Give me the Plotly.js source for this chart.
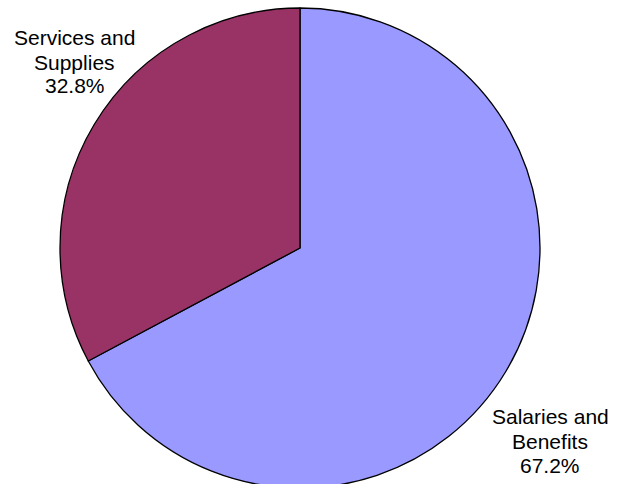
<!DOCTYPE html>
<html>
<head>
<meta charset="utf-8">
<script src="https://cdn.plot.ly/plotly-3.0.1.min.js"></script>
<style>
html, body { margin: 0; padding: 0; overflow: hidden; background: #fff; }
#chart { width: 624px; height: 488px; }
</style>
</head>
<body>
<div id="chart"></div>
<script>
const labels = ["Salaries and Benefits", "Services and Supplies"];
const labelLines = [["Salaries and", "Benefits"], ["Services and", "Supplies"]];
const values = [67.2, 32.8];
const colors = ["#9999FF", "#993366"];

const W = 624, H = 488, mt = 8, mb = 0, ml = 0, mr = 24;
const pw = W - ml - mr, ph = H - mt - mb;
function px(x) { return (x - ml) / pw; }
function py(y) { return (H - mb - y) / ph; }

// label block positions (pixel centers of each line)
const labelPos = [
  { x: 550, ys: [416, 441, 465.5] },
  { x: 74.5, ys: [37, 62, 86] }
];

const total = values.reduce((a, b) => a + b, 0);
const annotations = [];
labels.forEach((lab, i) => {
  const lines = labelLines[i].concat([(values[i] / total * 100).toFixed(1) + "%"]);
  lines.forEach((t, j) => {
    annotations.push({
      text: t, xref: "paper", yref: "paper",
      x: px(labelPos[i].x), y: py(labelPos[i].ys[j]),
      xanchor: "center", yanchor: "middle", showarrow: false,
      font: { family: "Liberation Sans, Arial, sans-serif", size: 21, color: "#000" }
    });
  });
});

Plotly.newPlot("chart", [{
  type: "pie",
  labels: labels,
  values: values,
  sort: false,
  direction: "clockwise",
  rotation: 0,
  textinfo: "none",
  hoverinfo: "label+percent",
  marker: { colors: colors, line: { color: "#000", width: 1.3 } },
  domain: { x: [0, 1], y: [0, 1] }
}], {
  width: W, height: H,
  margin: { l: ml, r: mr, t: mt, b: mb, pad: 0 },
  showlegend: false,
  paper_bgcolor: "#fff",
  annotations: annotations
}, { staticPlot: true });
</script>
</body>
</html>
